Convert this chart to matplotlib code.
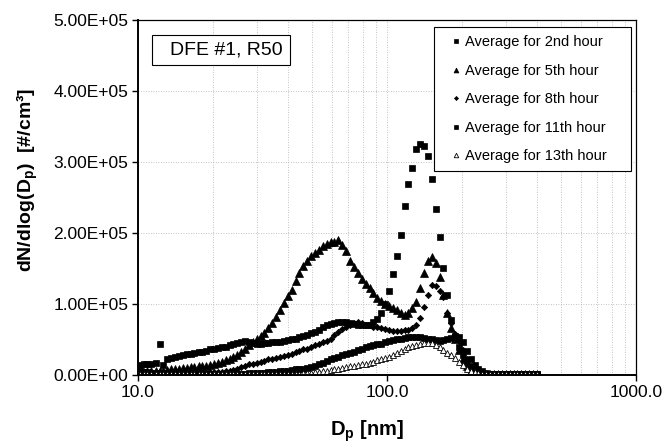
import matplotlib
matplotlib.use('Agg')
import matplotlib.pyplot as plt
from matplotlib.patches import Rectangle
from matplotlib.ticker import FixedLocator, FixedFormatter, LogLocator, NullFormatter

plt.rcParams['font.family'] = ['Liberation Sans', 'DejaVu Sans']
plt.rcParams['mathtext.default'] = 'regular'

# SMPS channel midpoints [nm]
diameter_nm = [
    10.2, 10.6, 10.9, 11.3, 11.8, 12.2, 12.6, 13.1, 13.6, 14.1,
    14.6, 15.1, 15.7, 16.3, 16.8, 17.5, 18.1, 18.8, 19.5, 20.2,
    20.9, 21.7, 22.5, 23.3, 24.1, 25.0, 25.9, 26.9, 27.9, 28.9,
    30.0, 31.1, 32.2, 33.4, 34.6, 35.9, 37.2, 38.5, 40.0, 41.4,
    42.9, 44.5, 46.1, 47.8, 49.6, 51.4, 53.3, 55.2, 57.3, 59.4,
    61.5, 63.8, 66.1, 68.5, 71.0, 73.7, 76.4, 79.1, 82.0, 85.1,
    88.2, 91.4, 94.7, 98.2, 101.8, 105.5, 109.4, 113.4, 117.6, 121.9,
    126.3, 131.0, 135.8, 140.7, 145.9, 151.2, 156.8, 162.5, 168.5, 174.7,
    181.1, 187.7, 194.6, 201.7, 209.1, 216.7, 224.7, 232.9, 241.4, 250.3,
    259.5, 269.0, 278.8, 289.0, 299.6, 310.6, 322.0, 333.8, 346.0, 358.7,
    371.8, 385.5, 399.6,
]

# dN/dlog(Dp) in thousands of #/cm3
hour2 = [
    14, 15, 16, 16, 17, 43, 14, 22, 24, 26,
    27, 28, 29, 30, 31, 32, 33, 34, 36, 37,
    38, 39, 40, 42, 43, 45, 47, 48, 47, 45,
    44, 44, 45, 45, 46, 46, 47, 48, 49, 50,
    51, 53, 55, 57, 59, 61, 64, 67, 70, 72,
    73, 74, 75, 74, 73, 72, 71, 70, 70, 71,
    74, 79, 88, 100, 118, 142, 168, 197, 238, 269,
    292, 318, 326, 322, 308, 276, 234, 195, 151, 113,
    77, 55, 40, 28, 18, 11, 7, 4, 3, 2,
    1, 1, 1, 1, 1, 1, 1, 1, 1, 1,
    1, 1, 1,
]
hour5 = [
    4, 4, 5, 5, 5, 6, 6, 7, 8, 9,
    9, 10, 10, 11, 11, 12, 13, 13, 14, 15,
    17, 19, 21, 23, 25, 28, 32, 37, 42, 47,
    51, 55, 59, 66, 73, 82, 92, 101, 111, 120,
    132, 143, 153, 160, 168, 172, 176, 182, 185, 187,
    188, 190, 183, 174, 160, 152, 143, 135, 128, 122,
    115, 109, 104, 100, 97, 95, 92, 88, 85, 87,
    94, 103, 122, 144, 160, 166, 158, 138, 112, 88,
    66, 50, 35, 22, 12, 6, 3, 2, 1, 1,
    1, 1, 1, 1, 1, 1, 1, 1, 1, 1,
    1, 1, 1,
]
hour8 = [
    3, 2, 3, 2, 3, 2, 3, 2, 3, 3,
    2, 3, 3, 2, 3, 3, 3, 3, 4, 4,
    4, 4, 5, 6, 7, 9, 11, 13, 15, 16,
    17, 18, 20, 22, 23, 24, 25, 27, 28, 30,
    32, 34, 36, 37, 39, 42, 44, 46, 48, 51,
    56, 61, 65, 68, 71, 73, 74, 73, 71, 70,
    68, 67, 66, 65, 63, 62, 62, 62, 63, 64,
    66, 70, 80, 96, 113, 127, 126, 118, 110, 88,
    73, 58, 48, 35, 22, 13, 7, 4, 2, 1,
    1, 1, 1, 1, 1, 1, 1, 1, 1, 1,
    1, 1, 1,
]
hour11 = [
    5, 4, 4, 3, 3, 3, 3, 2, 2, 2,
    2, 2, 2, 2, 2, 2, 2, 2, 2, 2,
    2, 2, 2, 2, 2, 2, 2, 2, 3, 3,
    3, 3, 3, 4, 4, 4, 5, 5, 6, 7,
    8, 8, 9, 10, 11, 13, 15, 17, 20, 22,
    24, 26, 28, 29, 31, 33, 35, 37, 39, 41,
    42, 43, 44, 46, 48, 49, 50, 51, 52, 53,
    54, 54, 53, 52, 51, 50, 49, 48, 49, 50,
    52, 54, 53, 46, 34, 22, 14, 8, 5, 3,
    2, 2, 1, 1, 1, 1, 1, 1, 1, 1,
    1, 1, 1,
]
hour13 = [
    2, 2, 2, 2, 2, 2, 2, 2, 2, 2,
    2, 2, 2, 2, 2, 2, 2, 2, 2, 2,
    2, 2, 2, 2, 2, 2, 2, 2, 2, 2,
    2, 2, 2, 2, 2, 2, 2, 2, 2, 2,
    2, 2, 3, 3, 3, 4, 4, 5, 6, 7,
    8, 9, 10, 11, 12, 13, 14, 15, 16, 17,
    19, 21, 22, 24, 26, 28, 31, 34, 37, 39,
    41, 42, 44, 45, 45, 45, 42, 39, 35, 31,
    28, 24, 19, 14, 9, 6, 4, 3, 2, 2,
    1, 1, 1, 2, 1, 1, 2, 1, 1, 1,
    2, 1, 1,
]

labels = ['Average for 2nd hour', 'Average for 5th hour', 'Average for 8th hour',
          'Average for 11th hour', 'Average for 13th hour']
y_ticks = [0, 1e5, 2e5, 3e5, 4e5, 5e5]
x_ticks = [10, 100, 1000]
x_tick_labels = ['10.0', '100.0', '1000.0']

fig = plt.figure(figsize=(6.62, 4.43), dpi=100)
ax = fig.add_axes([0.2085, 0.1535, 0.7523, 0.8014])

styles = [
    dict(marker='s', ms=4.5, mfc='black', mec='black', mew=0.5),
    dict(marker='^', ms=5.4, mfc='black', mec='black', mew=0.5),
    dict(marker='D', ms=3.2, mfc='black', mec='black', mew=0.5),
    dict(marker='s', ms=4.5, mfc='black', mec='black', mew=0.5),
    dict(marker='^', ms=5.0, mfc='white', mec='black', mew=0.6),
]
series = [hour2, hour5, hour8, hour11, hour13]
for vals, lab, st in zip(series, labels, styles):
    ax.plot(diameter_nm, [v * 1e3 for v in vals], ls='none', label=lab, **st)

ax.set_xscale('log')
ax.set_xlim(10, 1000)
ax.set_ylim(0, 5e5)
ax.xaxis.set_major_locator(FixedLocator(x_ticks))
ax.xaxis.set_major_formatter(FixedFormatter(x_tick_labels))
ax.xaxis.set_minor_locator(LogLocator(base=10, subs=range(2, 10)))
ax.xaxis.set_minor_formatter(NullFormatter())
ax.yaxis.set_major_locator(FixedLocator(y_ticks))
ax.set_yticklabels(['{:.2E}'.format(t) for t in y_ticks])

ax.tick_params(axis='both', which='major', direction='out', length=4, width=1,
               labelsize=12.5, pad=3)
ax.tick_params(axis='x', which='minor', length=0)

ax.grid(True, which='both', axis='x', color='#b0b0b0', ls=(0, (1, 2)), lw=0.6)
ax.grid(True, which='major', axis='y', color='#b0b0b0', ls=(0, (1, 2)), lw=0.6)
ax.set_axisbelow(True)

for side in ['left', 'bottom']:
    ax.spines[side].set_linewidth(1.4)
for side in ['top', 'right']:
    ax.spines[side].set_linewidth(0.9)

leg = ax.legend(loc='upper left', bbox_to_anchor=(0.5944, 0.5, 0.3956, 0.48),
                mode='expand', fontsize=10.5, labelspacing=1.0,
                handlelength=1.92, handletextpad=-0.34, borderpad=0.55,
                markerscale=0.65, fancybox=False, framealpha=1,
                edgecolor='black', borderaxespad=0)
leg.get_frame().set_linewidth(0.8)

ax.add_patch(Rectangle((0.028, 0.873), 0.277, 0.085, transform=ax.transAxes,
                       fc='white', ec='black', lw=0.8, zorder=5))
ax.text(0.177, 0.915, 'DFE #1, R50', transform=ax.transAxes, fontsize=14,
        ha='center', va='center', zorder=6)

fig.text(27 / 662, 1 - 180 / 443, 'dN/dlog(D$_{p}$)  [#/cm³]', rotation=90,
         ha='center', va='center', fontsize=14, fontweight='bold')
fig.text(367 / 662, 1 - 431 / 443, 'D$_{p}$ [nm]', ha='center', va='center',
         fontsize=14.5, fontweight='bold')

fig.savefig('out.png', dpi=100, facecolor='white')
